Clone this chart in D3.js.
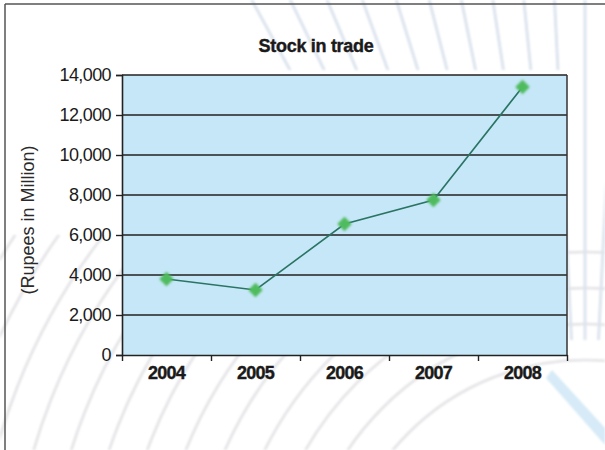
<!DOCTYPE html>
<html>
<head>
<meta charset="utf-8">
<script src="https://cdn.jsdelivr.net/npm/d3@7"></script>
<style>
  html, body { margin: 0; padding: 0; background: #fff; }
  svg { display: block; font-family: "Liberation Sans", Arial, Helvetica, sans-serif; }
</style>
</head>
<body>
<svg id="chart" width="605" height="450"></svg>
<script>
// Stock in trade, 2004-2008 (Rupees in Million)
const years = ["2004", "2005", "2006", "2007", "2008"];
const stockInTrade = [3800, 3250, 6550, 7750, 13400];
const yTicks = [0, 2000, 4000, 6000, 8000, 10000, 12000, 14000];
const chartTitle = "Stock in trade";
const yTitle = "(Rupees in Million)";

const W = 605, H = 450;
const plot = { left: 122, right: 567, top: 75, bottom: 355 };

const svg = d3.select("#chart");
const defs = svg.append("defs");
defs.append("filter").attr("id", "soft")
  .attr("x", "-50%").attr("y", "-50%").attr("width", "200%").attr("height", "200%")
  .append("feGaussianBlur").attr("stdDeviation", 1.1);
defs.append("filter").attr("id", "haze")
  .append("feGaussianBlur").attr("stdDeviation", 1.2);

// Fan strokes only show above and to the right of the plot
const fanClip = defs.append("clipPath").attr("id", "fanClip");
fanClip.append("rect").attr("x", 0).attr("y", 0).attr("width", W).attr("height", 70);
fanClip.append("rect").attr("x", 560).attr("y", 0).attr("width", 45).attr("height", 340);
// Arcs only show in the lower part of the page
defs.append("clipPath").attr("id", "arcClip")
  .append("rect").attr("x", 0).attr("y", 235).attr("width", W).attr("height", H - 235);

// Decorative backdrop: pale concentric arcs and a fan of radial strokes
const deco = svg.append("g").attr("fill", "none").attr("filter", "url(#haze)");
const cx = 585, cy = 610;
const arcs = deco.append("g").attr("clip-path", "url(#arcClip)");
d3.range(250, 820, 36).forEach(r => {
  arcs.append("circle").attr("cx", cx).attr("cy", cy).attr("r", r)
    .attr("stroke", "#e3e3e6").attr("stroke-width", 2.6);
});
const fan = deco.append("g").attr("clip-path", "url(#fanClip)");
d3.range(-0.5, 0.12, 0.05).forEach(a => {
  const x2 = cx + Math.sin(a) * 900, y2 = cy - Math.cos(a) * 900;
  fan.append("line").attr("x1", cx).attr("y1", cy).attr("x2", x2).attr("y2", y2)
    .attr("stroke", "#dde4ee").attr("stroke-width", 3);
});
// pale blue diagonal streak at the lower right
deco.append("path").attr("d", "M552,370 L605,428 L605,445 L546,378 Z")
  .attr("fill", "#d6eaf7");

// Frame lines (top and left)
svg.append("line").attr("x1", 5).attr("y1", 4).attr("x2", W).attr("y2", 4)
  .attr("stroke", "#555").attr("stroke-width", 1.5);
svg.append("line").attr("x1", 5).attr("y1", 4).attr("x2", 5).attr("y2", H)
  .attr("stroke", "#555").attr("stroke-width", 1.5);

// Scales
const x = d3.scaleBand().domain(years).range([plot.left, plot.right]).padding(0);
const xEdge = d3.scaleLinear().domain([0, years.length]).range([plot.left, plot.right]);
const y = d3.scaleLinear().domain([0, 14000]).range([plot.bottom, plot.top]);

// Plot area
svg.append("rect")
  .attr("x", plot.left).attr("y", plot.top)
  .attr("width", plot.right - plot.left).attr("height", plot.bottom - plot.top)
  .attr("fill", "#c6e7f7");

// Horizontal gridlines
svg.append("g").selectAll("line").data(yTicks.filter(d => d > 0)).join("line")
  .attr("x1", plot.left).attr("x2", plot.right)
  .attr("y1", d => y(d)).attr("y2", d => y(d))
  .attr("stroke", "#222").attr("stroke-width", 1.4);

// Right border
svg.append("line").attr("x1", plot.right).attr("x2", plot.right)
  .attr("y1", plot.top).attr("y2", plot.bottom)
  .attr("stroke", "#333").attr("stroke-width", 1.5);

// Y axis
const yAxis = svg.append("g").attr("transform", `translate(${plot.left},0)`)
  .call(d3.axisLeft(y).tickValues(yTicks).tickFormat(d3.format(",")).tickSize(6).tickPadding(5));
yAxis.select(".domain").attr("stroke", "#222").attr("stroke-width", 1.6);
yAxis.selectAll(".tick line").attr("stroke", "#222").attr("stroke-width", 1.4);
yAxis.selectAll(".tick text").attr("font-size", 18).attr("fill", "#1a1a1a")
  .attr("letter-spacing", -0.6).attr("font-family", "'Liberation Sans', Arial, sans-serif");

// X axis: boundary ticks
const xTickAxis = svg.append("g").attr("transform", `translate(0,${plot.bottom})`)
  .call(d3.axisBottom(xEdge).tickValues(d3.range(0, years.length + 1)).tickFormat("").tickSize(6).tickSizeOuter(0));
xTickAxis.select(".domain").attr("stroke", "#222").attr("stroke-width", 1.6);
xTickAxis.selectAll(".tick line").attr("stroke", "#222").attr("stroke-width", 1.4);

// X axis: category labels
const xLabelAxis = svg.append("g").attr("transform", `translate(0,${plot.bottom})`)
  .call(d3.axisBottom(x).tickSize(0).tickPadding(11));
xLabelAxis.select(".domain").remove();
xLabelAxis.selectAll(".tick text").attr("font-size", 18).attr("font-weight", "bold")
  .attr("fill", "#1a1a1a").attr("letter-spacing", -0.8)
  .attr("stroke", "#1a1a1a").attr("stroke-width", 0.4)
  .attr("font-family", "'Liberation Sans', Arial, sans-serif");

// Series line
const pts = years.map((yr, i) => ({ yr, v: stockInTrade[i] }));
const line = d3.line().x(d => x(d.yr) + x.bandwidth() / 2).y(d => y(d.v));
svg.append("path").datum(pts).attr("d", line)
  .attr("fill", "none").attr("stroke", "#2a7464").attr("stroke-width", 1.6);

// Markers (soft green diamonds)
svg.append("g").attr("filter", "url(#soft)").selectAll("path").data(pts).join("path")
  .attr("d", d3.symbol().type(d3.symbolSquare).size(105))
  .attr("transform", d => `translate(${x(d.yr) + x.bandwidth() / 2},${y(d.v)}) rotate(45)`)
  .attr("fill", "#4fbb5e");

// Titles
svg.append("text").attr("x", 316).attr("y", 52).attr("text-anchor", "middle")
  .attr("font-size", 18).attr("font-weight", "bold").attr("fill", "#1a1a1a")
  .attr("stroke", "#1a1a1a").attr("stroke-width", 0.4)
  .attr("letter-spacing", -0.3).text(chartTitle);

svg.append("text")
  .attr("transform", "translate(34,220) rotate(-90)")
  .attr("text-anchor", "middle").attr("font-size", 18).attr("fill", "#2a2a2a")
  .text(yTitle);
</script>
</body>
</html>
